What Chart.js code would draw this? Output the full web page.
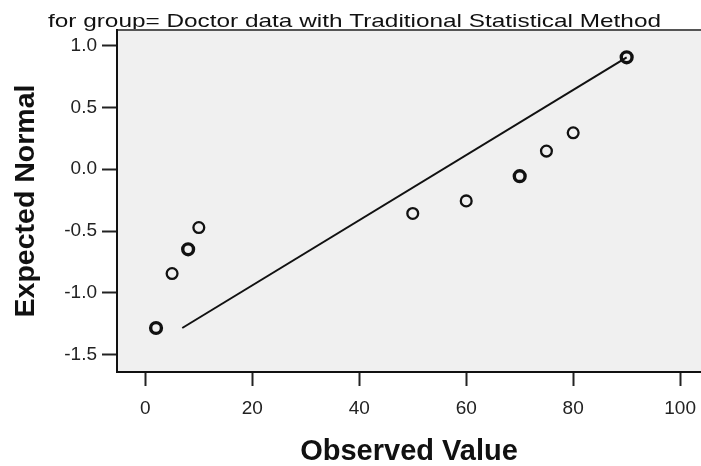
<!DOCTYPE html>
<html>
<head>
<meta charset="utf-8">
<script src="https://cdn.jsdelivr.net/npm/chart.js@4.4.1/dist/chart.umd.min.js"></script>
<style>
  html, body { margin: 0; padding: 0; background: #fff; overflow: hidden; }
  canvas { display: block; }
</style>
</head>
<body>
<canvas id="qq" width="701" height="466" style="width:701px;height:466px"></canvas>
<script>
const titleText = "for group= Doctor data with Traditional Statistical Method";

const observed = [2, 5, 8, 10, 50, 60, 70, 75, 80, 90];
const expectedNormal = [-1.285, -0.844, -0.648, -0.472, -0.358, -0.256, -0.056, 0.147, 0.295, 0.906];
// cases stacked on the same point (drawn with a heavier ring)
const caseCounts = [2, 1, 2, 1, 1, 1, 2, 1, 1, 2];

// reference line end points
const lineX = [6.9, 90];
const lineY = [-1.285, 0.906];

const xTicks = [0, 20, 40, 60, 80, 100];
const yTicks = [-1.5, -1.0, -0.5, 0.0, 0.5, 1.0];

const fam = '"Liberation Sans", Arial, sans-serif';

const framePlugin = {
	id: "frame",
	beforeDraw(chart) {
		const { ctx, chartArea: a } = chart;
		ctx.save();
		// title, stretched sideways like the original export
		ctx.font = "18.5px " + fam;
		const w = ctx.measureText(titleText).width;
		ctx.translate(354.5, 27);
		ctx.scale(613 / w, 1);
		ctx.textAlign = "center";
		ctx.textBaseline = "alphabetic";
		ctx.fillStyle = "#111";
		ctx.fillText(titleText, 0, 0);
		ctx.restore();

		ctx.save();
		ctx.fillStyle = "#f0f0f0";
		ctx.fillRect(a.left, a.top, a.right - a.left, a.bottom - a.top);
		ctx.strokeStyle = "#555";
		ctx.lineWidth = 2;
		ctx.beginPath();
		ctx.moveTo(a.left, a.top);
		ctx.lineTo(a.right, a.top);
		ctx.stroke();
		ctx.restore();
	}
};

new Chart(document.getElementById("qq"), {
	type: "scatter",
	data: {
		datasets: [
			{
				data: observed.map((v, i) => ({ x: v, y: expectedNormal[i] })),
				pointRadius: 5.4,
				pointBorderWidth: ctx => caseCounts[ctx.dataIndex] > 1 ? 3.4 : 2.3,
				pointBorderColor: "#111",
				pointBackgroundColor: "rgba(0,0,0,0)"
			},
			{
				type: "line",
				data: lineX.map((v, i) => ({ x: v, y: lineY[i] })),
				borderColor: "#111",
				borderWidth: 2,
				pointRadius: 0,
				fill: false
			}
		]
	},
	options: {
		responsive: false,
		animation: false,
		devicePixelRatio: 1,
		layout: { autoPadding: false, padding: { top: 30, left: 0, right: 0, bottom: 0 } },
		plugins: {
			legend: { display: false },
			tooltip: { enabled: false },
			title: { display: false }
		},
		scales: {
			x: {
				type: "linear",
				min: -5.3,
				max: 103.9,
				afterBuildTicks: s => { s.ticks = xTicks.map(v => ({ value: v })); },
				afterFit: s => { s.height = 94; s.paddingLeft = 0; s.paddingRight = 0; },
				grid: { display: true, drawOnChartArea: false, drawTicks: true, tickLength: 14, tickWidth: 2, tickColor: "#222" },
				border: { display: true, color: "#111", width: 2 },
				ticks: { font: { family: fam, size: 19 }, color: "#222", padding: 11, callback: v => String(v) },
				title: { display: true, text: "Observed Value", color: "#111", padding: 0,
					font: { family: fam, size: 29, weight: "bold", lineHeight: 1 } }
			},
			y: {
				type: "linear",
				min: -1.641,
				max: 1.127,
				afterBuildTicks: s => { s.ticks = yTicks.map(v => ({ value: v })); },
				afterFit: s => { s.width = 117; s.paddingTop = 0; s.paddingBottom = 0; },
				grid: { display: true, drawOnChartArea: false, drawTicks: true, tickLength: 15, tickWidth: 2, tickColor: "#222" },
				border: { display: true, color: "#111", width: 2 },
				ticks: { font: { family: fam, size: 19 }, color: "#222", padding: 5, callback: v => v.toFixed(1) },
				title: { display: true, text: "Expected Normal", color: "#111", padding: { top: 12, bottom: 0 },
					font: { family: fam, size: 28.5, weight: "bold", lineHeight: 1 } }
			}
		}
	},
	plugins: [framePlugin]
});
</script>
</body>
</html>
